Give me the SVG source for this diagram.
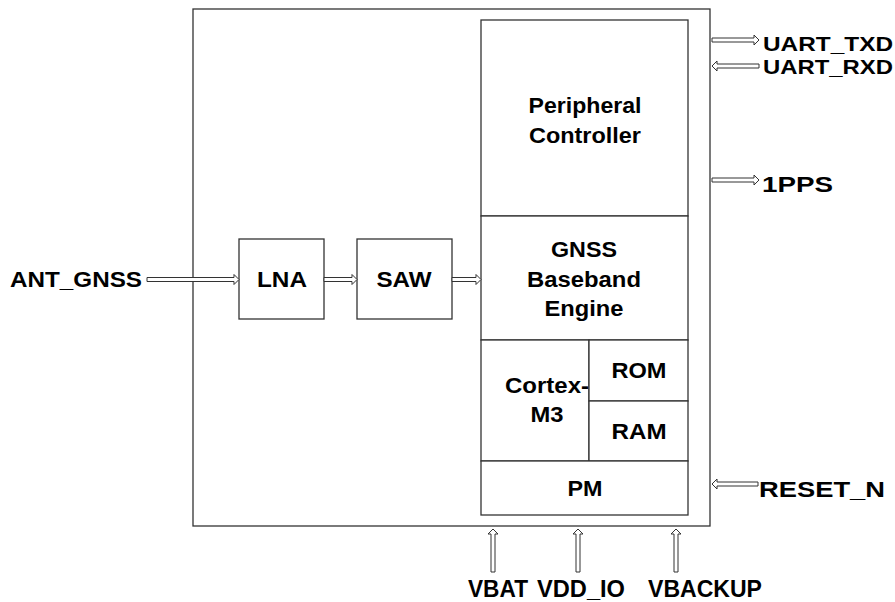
<svg xmlns="http://www.w3.org/2000/svg" width="895" height="602" viewBox="0 0 895 602">
<style>
.box{fill:#fff;stroke:#333;stroke-width:1.3}
.arr{fill:#fff;stroke:#333;stroke-width:1}
text{font-family:"Liberation Sans",Arial,sans-serif;font-weight:bold;fill:#000;font-size:22px}
.c{text-anchor:middle}
.b{font-size:24px}
.u{font-size:21px}
</style>
<rect width="895" height="602" fill="#fff"/>
<g id="chip">
<rect class="box" x="193" y="9" width="517" height="517"/>
</g>
<g id="peripheral">
<rect class="box" x="481" y="20" width="207" height="196"/>
<text class="c" x="585" y="113" textLength="113" lengthAdjust="spacingAndGlyphs">Peripheral</text>
<text class="c" x="585" y="143" textLength="112" lengthAdjust="spacingAndGlyphs">Controller</text>
</g>
<g id="gnss">
<rect class="box" x="481" y="216" width="207" height="124"/>
<text class="c" x="584" y="257" textLength="66" lengthAdjust="spacingAndGlyphs">GNSS</text>
<text class="c" x="584" y="287" textLength="114" lengthAdjust="spacingAndGlyphs">Baseband</text>
<text class="c" x="584" y="316" textLength="79" lengthAdjust="spacingAndGlyphs">Engine</text>
</g>
<g id="cortex">
<rect class="box" x="481" y="340" width="108" height="121"/>
<text class="c" x="547" y="393" textLength="84" lengthAdjust="spacingAndGlyphs">Cortex-</text>
<text class="c" x="547" y="422" textLength="33" lengthAdjust="spacingAndGlyphs">M3</text>
</g>
<g id="rom">
<rect class="box" x="589" y="340" width="99" height="61"/>
<text class="c" x="639" y="378" textLength="55" lengthAdjust="spacingAndGlyphs">ROM</text>
</g>
<g id="ram">
<rect class="box" x="589" y="401" width="99" height="60"/>
<text class="c" x="639" y="439" textLength="55" lengthAdjust="spacingAndGlyphs">RAM</text>
</g>
<g id="pm">
<rect class="box" x="481" y="461" width="207" height="54"/>
<text class="c" x="585" y="496" textLength="35" lengthAdjust="spacingAndGlyphs">PM</text>
</g>
<g id="lna">
<rect class="box" x="239" y="239" width="85" height="80"/>
<text class="c" x="282" y="287" textLength="50" lengthAdjust="spacingAndGlyphs">LNA</text>
</g>
<g id="saw">
<rect class="box" x="357" y="239" width="95" height="80"/>
<text class="c" x="404" y="287" textLength="55" lengthAdjust="spacingAndGlyphs">SAW</text>
</g>
<g id="labels">
<text x="10" y="287" textLength="132" lengthAdjust="spacingAndGlyphs">ANT_GNSS</text>
<text class="u" x="763" y="51" textLength="130" lengthAdjust="spacingAndGlyphs">UART_TXD</text>
<text class="u" x="763" y="74" textLength="130" lengthAdjust="spacingAndGlyphs">UART_RXD</text>
<text x="762" y="192" textLength="71" lengthAdjust="spacingAndGlyphs">1PPS</text>
<text x="759" y="497" textLength="126" lengthAdjust="spacingAndGlyphs">RESET_N</text>
<text class="b" x="468" y="597" textLength="60" lengthAdjust="spacingAndGlyphs">VBAT</text>
<text class="b" x="537" y="597" textLength="88" lengthAdjust="spacingAndGlyphs">VDD_IO</text>
<text class="b" x="648" y="597" textLength="114" lengthAdjust="spacingAndGlyphs">VBACKUP</text>
</g>
<g id="connectors">
<path class="arr" d="M147,277.5H234V274.5L239,279.5L234,284.5V281.5H147Z"/>
<path class="arr" d="M324,277.5H352V274.5L357,279.5L352,284.5V281.5H324Z"/>
<path class="arr" d="M452,277.5H476V274.5L481,279.5L476,284.5V281.5H452Z"/>
<path class="arr" d="M712,38H754V35L759,40L754,45V42H712Z"/>
<path class="arr" d="M759,64H717V61L712,66L717,71V68H759Z"/>
<path class="arr" d="M712,178H754V175L759,180L754,185V182H712Z"/>
<path class="arr" d="M758,482H717V479L712,484L717,489V486H758Z"/>
<path class="arr" d="M491,572V534H488L493,529L498,534H495V572Z"/>
<path class="arr" d="M576,572V534H573L578,529L583,534H580V572Z"/>
<path class="arr" d="M674,572V534H671L676,529L681,534H678V572Z"/>
</g>
</svg>
